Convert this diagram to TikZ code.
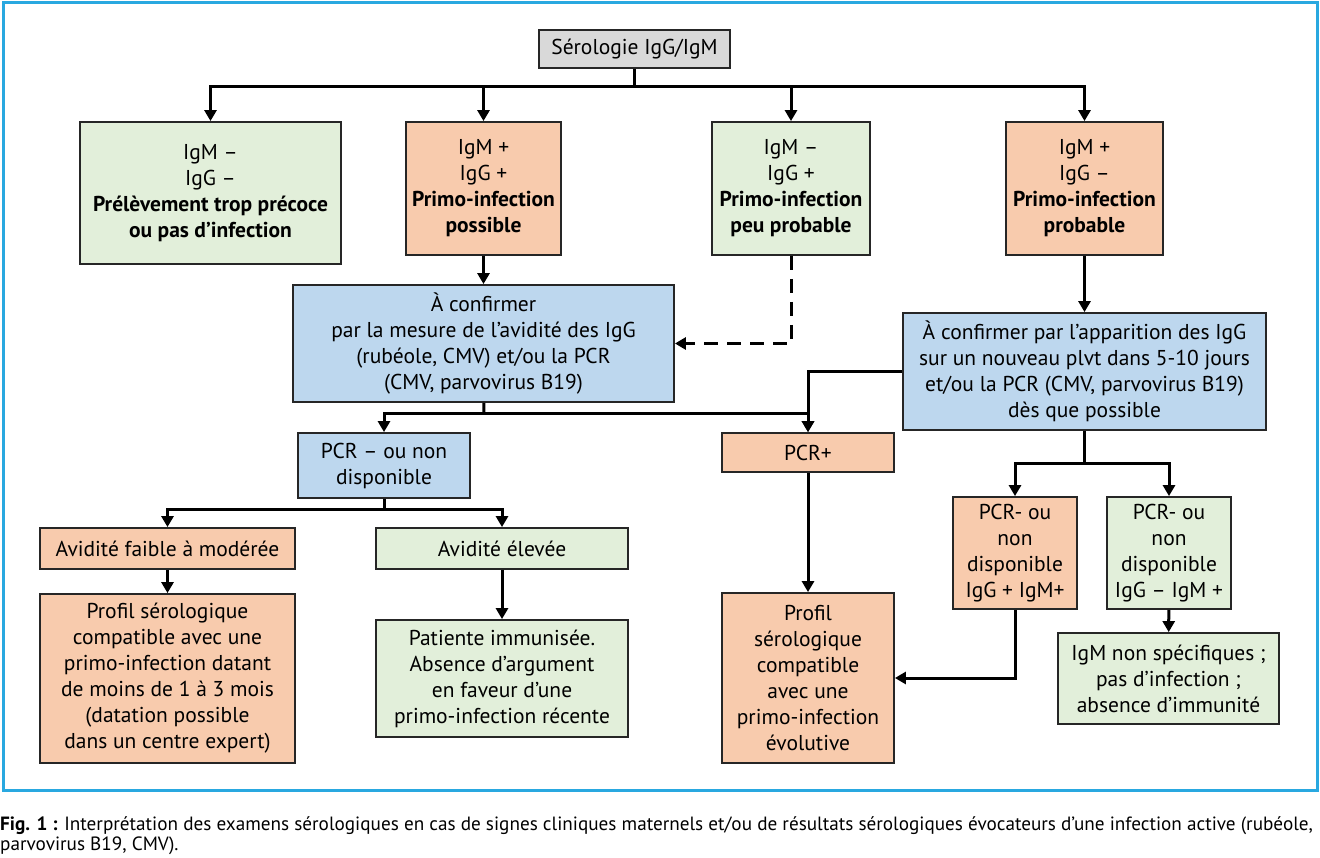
\documentclass[tikz,border=0pt]{standalone}
\usepackage{fontspec}
\setmainfont{PT Sans}
\newfontfamily\capfont{PT Sans}
\usetikzlibrary{arrows.meta}
\definecolor{gr}{HTML}{E2EFDA}
\definecolor{orr}{HTML}{F8CBAD}
\definecolor{bl}{HTML}{BDD7EE}
\definecolor{gy}{HTML}{D9D9D9}
\definecolor{fr}{HTML}{29A8E0}
\definecolor{bd}{HTML}{262626}
\begin{document}
\begin{tikzpicture}[x=1pt,y=-1pt,
 box/.style={draw=bd, line width=1.8pt, inner sep=0pt, align=center, font=\fontsize{21.5}{26}\selectfont},
 arr/.style={line width=3pt, -{Triangle[length=11pt,width=12pt]}},
 conn/.style={line width=3pt},
 capt/.style={anchor=west, inner sep=0pt, font=\capfont\fontsize{19.2}{22}\selectfont}
]
\useasboundingbox (0,0) rectangle (1320,858);
\fill[white] (0,0) rectangle (1320,858);
\draw[fr, line width=3pt] (3,3) rectangle (1317,790);

% boxes
\node[box, fill=gy, minimum width=191pt, minimum height=38pt] (top) at (634.5,49) {Sérologie IgG/IgM};
\node[box, fill=gr, minimum width=261pt, minimum height=142pt] (b1) at (210.5,193) {IgM –\\IgG –\\\textbf{Prélèvement trop précoce}\\\textbf{ou pas d’infection}};
\node[box, fill=orr, minimum width=155pt, minimum height=133pt] (b2) at (483.5,188.5) {IgM +\\IgG +\\\textbf{Primo-infection}\\\textbf{possible}};
\node[box, fill=gr, minimum width=158pt, minimum height=133pt] (b3) at (791,188.5) {IgM –\\IgG +\\\textbf{Primo-infection}\\\textbf{peu probable}};
\node[box, fill=orr, minimum width=157pt, minimum height=133pt] (b4) at (1084.5,188.5) {IgM +\\IgG –\\\textbf{Primo-infection}\\\textbf{probable}};
\node[box, fill=bl, minimum width=381pt, minimum height=117pt] (A) at (483.5,343.5) {À confirmer\\par la mesure de l’avidité des IgG\\(rubéole, CMV) et/ou la PCR\\(CMV, parvovirus B19)};
\node[box, fill=bl, minimum width=363pt, minimum height=117pt] (B) at (1084.5,371.5) {À confirmer par l’apparition des IgG\\sur un nouveau plvt dans 5-10 jours\\et/ou la PCR (CMV, parvovirus B19)\\dès que possible};
\node[box, fill=bl, minimum width=172pt, minimum height=65pt] (pcrm) at (384,465.5) {PCR – ou non\\disponible};
\node[box, fill=orr, minimum width=172pt, minimum height=39pt] (pcrp) at (808,452.5) {PCR+};
\node[box, fill=orr, minimum width=255pt, minimum height=41pt] (avf) at (167.5,548.5) {Avidité faible à modérée};
\node[box, fill=gr, minimum width=252pt, minimum height=41pt] (ave) at (502,548.5) {Avidité élevée};
\node[box, fill=orr, minimum width=255pt, minimum height=169pt] (prof1) at (167.5,678.5) {Profil sérologique\\compatible avec une\\primo-infection datant\\de moins de 1 à 3 mois\\(datation possible\\dans un centre expert)};
\node[box, fill=gr, minimum width=252pt, minimum height=117pt] (pat) at (502,678.5) {Patiente immunisée.\\Absence d’argument\\en faveur d’une\\primo-infection récente};
\node[box, fill=orr, minimum width=172pt, minimum height=170pt] (prof2) at (808,678) {Profil\\sérologique\\compatible\\avec une\\primo-infection\\évolutive};
\node[box, fill=orr, minimum width=124pt, minimum height=112pt] (pcro) at (1015,553) {PCR- ou\\non\\disponible\\IgG + IgM+};
\node[box, fill=gr, minimum width=124pt, minimum height=112pt] (pcrg) at (1169,553) {PCR- ou\\non\\disponible\\IgG – IgM +};
\node[box, fill=gr, minimum width=221pt, minimum height=91pt] (igm) at (1168.5,678.5) {IgM non spécifiques ;\\pas d’infection ;\\absence d’immunité};

% junctions
\coordinate (j0) at (634.5,87);
\coordinate (j1) at (484,414);
\coordinate (j2) at (384,509);
\coordinate (j3) at (1084.5,463);

% connectors
\draw[conn] (top) -- (j0);
\draw[arr] (j0) -| (b1);
\draw[arr] (j0) -| (b2);
\draw[arr] (j0) -| (b3);
\draw[arr] (j0) -| (b4);
\draw[arr] (b2) -- (A);
\draw[arr] (b4) -- (B);
\draw[arr, dash pattern=on 14pt off 9pt] (b3) |- (A);
\draw[conn] (A) -- (j1);
\draw[arr] (j1) -| (pcrm);
\draw[arr] (j1) -| (pcrp);
\draw[arr] (B.west) -| (pcrp);
\draw[conn] (pcrm) -- (j2);
\draw[arr] (j2) -| (avf);
\draw[arr] (j2) -| (ave);
\draw[arr] (avf) -- (prof1);
\draw[arr] (ave) -- (pat);
\draw[arr] (pcrp) -- (prof2);
\draw[conn] (B) -- (j3);
\draw[arr] (j3) -| (pcro);
\draw[arr] (j3) -| (pcrg);
\draw[arr] (pcro) |- (prof2);
\draw[arr] (pcrg) -- (igm);

% caption
\node[capt] (cap1) at (0,826) {\textbf{Fig. 1 :} Interprétation des examens sérologiques en cas de signes cliniques maternels et/ou de résultats sérologiques évocateurs d’une infection active (rubéole,};
\node[capt] (cap2) at (0,846) {parvovirus B19, CMV).};
\end{tikzpicture}
\end{document}
